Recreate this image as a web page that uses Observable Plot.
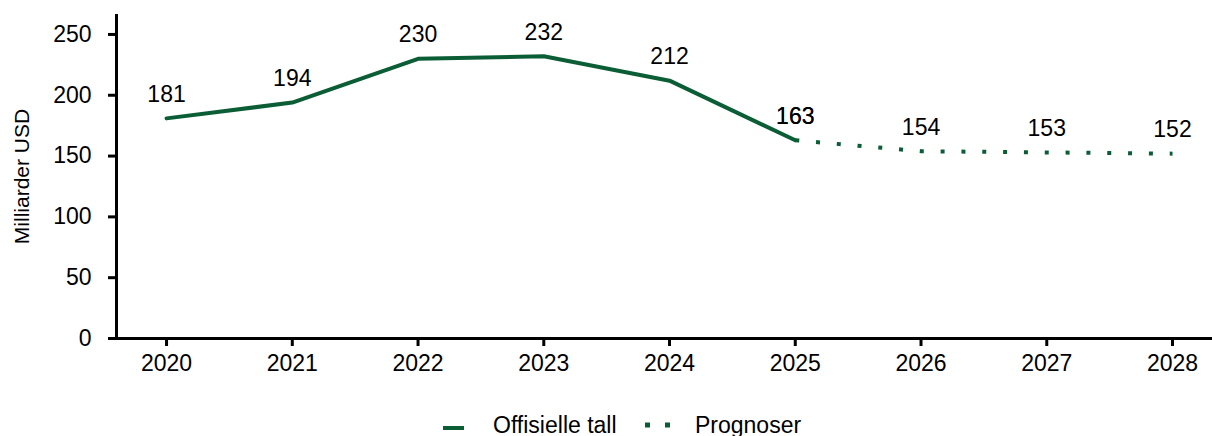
<!DOCTYPE html>
<html>
<head>
<meta charset="utf-8">
<script src="https://cdn.jsdelivr.net/npm/d3@7"></script>
<script src="https://cdn.jsdelivr.net/npm/@observablehq/plot@0.6"></script>
<style>
  body { margin: 0; background: #fff; font-family: "Liberation Sans", Arial, sans-serif; position: relative; width: 1212px; height: 436px; overflow: hidden; }
  #legend { position: absolute; left: 0; top: 414px; width: 1212px; height: 22px; font-size: 23px; line-height: 23px; color: #000; }
  #legend .sw { position: absolute; top: 0; }
  #legend .lbl { position: absolute; top: 0; white-space: nowrap; }
</style>
</head>
<body>
<div id="chart"></div>
<div id="legend"></div>
<script>
const years = [2020, 2021, 2022, 2023, 2024, 2025, 2026, 2027, 2028];
const values = [181, 194, 230, 232, 212, 163, 154, 153, 152];
const officialYears = [2020, 2021, 2022, 2023, 2024, 2025];
const forecastYears = [2025, 2026, 2027, 2028];
const yTicks = [0, 50, 100, 150, 200, 250];
const seriesNames = ["Offisielle tall", "Prognoser"];

const green = "#0b5d36";
const data = years.map((y, i) => ({year: y, value: values[i]}));
const official = data.filter(d => officialYears.includes(d.year));
const forecast = data.filter(d => forecastYears.includes(d.year));
const xMin = 2019.602, xMax = 2028.318;

const chart = Plot.plot({
  width: 1212,
  height: 390,
  marginLeft: 116,
  marginRight: 0,
  marginTop: 14,
  marginBottom: 52,
  style: {fontFamily: "Liberation Sans, Arial, sans-serif", fontSize: "23px", color: "#000", background: "#fff"},
  x: {domain: [xMin, xMax]},
  y: {domain: [0, 266.4]},
  marks: [
    Plot.axisY({ticks: yTicks, tickSize: 8, tickPadding: 17, strokeWidth: 3, fontSize: 23, label: null}),
    Plot.text(["Milliarder USD"], {frameAnchor: "left", textAnchor: "middle", dx: -94, rotate: -90, fontSize: 21, fill: "#000"}),
    Plot.axisX({ticks: years, tickFormat: d => String(d), tickSize: 8, tickPadding: 8, strokeWidth: 3, fontSize: 23, label: null}),
    Plot.ruleY([0], {x1: xMin, x2: xMax, stroke: "#000", strokeWidth: 3}),
    Plot.ruleX([xMin], {y1: 0, y2: 266.4, stroke: "#000", strokeWidth: 3}),
    Plot.line(official, {x: "year", y: "value", stroke: green, strokeWidth: 4}),
    Plot.line(forecast, {x: "year", y: "value", stroke: green, strokeWidth: 4, strokeDasharray: "4,16.83", strokeLinecap: "butt"}),
    Plot.text(official, {x: "year", y: "value", text: d => String(d.value), dy: -24, fontSize: 23, fill: "#000"}),
    Plot.text(forecast, {x: "year", y: "value", text: d => String(d.value), dy: -24, fontSize: 23, fill: "#000"})
  ]
});
document.getElementById("chart").appendChild(chart);

const legend = document.getElementById("legend");
const swatchLeft = [443, 645];
const labelLeft = [493, 695];
seriesNames.forEach((name, i) => {
  const sw = document.createElement("div");
  sw.className = "sw";
  sw.style.left = swatchLeft[i] + "px";
  sw.innerHTML = i === 0
    ? `<svg width="22" height="26"><line x1="0" x2="21" y1="14" y2="14" stroke="${green}" stroke-width="4"/></svg>`
    : `<svg width="28" height="26"><line x1="0" x2="26" y1="11" y2="11" stroke="${green}" stroke-width="5" stroke-dasharray="5,15"/></svg>`;
  legend.appendChild(sw);
  const lbl = document.createElement("div");
  lbl.className = "lbl";
  lbl.style.left = labelLeft[i] + "px";
  lbl.textContent = name;
  legend.appendChild(lbl);
});
</script>
</body>
</html>
